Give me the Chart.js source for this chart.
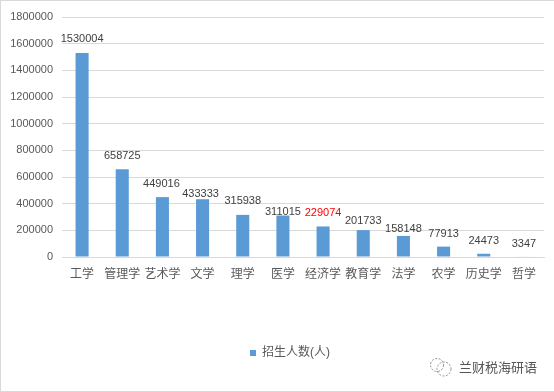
<!DOCTYPE html>
<html>
<head>
<meta charset="utf-8">
<script src="https://cdn.jsdelivr.net/npm/chart.js@4"></script>
<style>
    html, body { margin: 0; padding: 0; background: #fff; }
    #wrap { position: relative; width: 554px; height: 392px; overflow: hidden; }
    #frame { position: absolute; left: 0; top: 0; width: 554px; height: 392px; box-sizing: border-box;
             border: solid #d9d9d9; border-width: 1px 0 1px 1px; pointer-events: none; }
    #mark { position: absolute; left: 429px; top: 357px; width: 120px; height: 20px; display: flex; align-items: center;
            white-space: nowrap; font: 13px/20px "Noto Sans CJK SC", sans-serif; color: #555; }
    #mark svg { margin-right: 7px; flex: none; }
</style>
</head>
<body>
<div id="wrap">
    <canvas id="chart" width="554" height="392"></canvas>
    <div id="frame"></div>
    <div id="mark">
        <svg width="23" height="20" viewBox="0 0 23 20" fill="none" stroke="#777" stroke-width="0.8" stroke-dasharray="2 1.5">
            <circle cx="8" cy="8" r="6.5"/>
            <circle cx="15" cy="12" r="7"/>
        </svg>
        <span>兰财税海研语</span>
    </div>
</div>
<script>
const categories = ['工学', '管理学', '艺术学', '文学', '理学', '医学', '经济学', '教育学', '法学', '农学', '历史学', '哲学'];
const students = [1530004, 658725, 449016, 433333, 315938, 311015, 229074, 201733, 158148, 77913, 24473, 3347];
const seriesName = '招生人数(人)';

// Hand placed labels in the original, distance above bar top / sideways shift
const labelGap = [14, 13, 13, 5, 14, 4, 13, 9, 7, 13, 13, 13];
const labelShift = [0, 0, -1, -2, 0, 0, 0, 0, 0, 0, 0, 0];
const labelColor = ['#404040', '#404040', '#404040', '#404040', '#404040', '#404040', '#ff0000', '#404040', '#404040', '#404040', '#404040', '#404040'];

const FONT = '"Liberation Sans", "Noto Sans CJK SC", sans-serif';

// Draw value labels above the bars
const valueLabels = {
    id: 'valueLabels',
    afterDatasetsDraw(chart) {
        const ctx = chart.ctx;
        const bars = chart.getDatasetMeta(0).data;
        ctx.save();
        ctx.font = '11px ' + FONT;
        ctx.textAlign = 'center';
        ctx.textBaseline = 'middle';
        bars.forEach((bar, i) => {
            ctx.fillStyle = labelColor[i];
            ctx.fillText(students[i], bar.x + labelShift[i], bar.y - labelGap[i]);
        });
        ctx.restore();
    }
};

// Legend sits right of centre in the original
const legendShift = {
    id: 'legendShift',
    afterLayout(chart) {
        chart.legend.left += 18;
        chart.legend.right += 18;
    }
};

new Chart(document.getElementById('chart'), {
    type: 'bar',
    data: {
        labels: categories,
        datasets: [{
            label: seriesName,
            data: students,
            backgroundColor: '#5b9bd5',
            barPercentage: 0.325,
            categoryPercentage: 1,
        }]
    },
    options: {
        responsive: false,
        animation: false,
        layout: { padding: { left: 0, right: 10, top: 17, bottom: 23 } },
        plugins: {
            tooltip: { enabled: false },
            legend: {
                position: 'bottom',
                labels: {
                    boxWidth: 6,
                    boxHeight: 6,
                    color: '#595959',
                    font: { family: FONT, size: 12 },
                    padding: 10,
                }
            }
        },
        scales: {
            x: {
                grid: { display: false, drawTicks: false },
                border: { color: '#d9d9d9' },
                ticks: {
                    color: '#595959',
                    font: { family: FONT, size: 12 },
                    maxRotation: 0,
                    autoSkip: false,
                    padding: 10,
                },
                afterFit(scale) { scale.height = 80; }
            },
            y: {
                min: 0,
                max: 1800000,
                grid: { color: '#d9d9d9', drawTicks: false },
                border: { display: false },
                ticks: {
                    stepSize: 200000,
                    color: '#595959',
                    font: { family: FONT, size: 11 },
                    padding: 9,
                    callback: value => String(value),
                },
                afterFit(scale) { scale.width = 62; }
            }
        }
    },
    plugins: [valueLabels, legendShift]
});
</script>
</body>
</html>
